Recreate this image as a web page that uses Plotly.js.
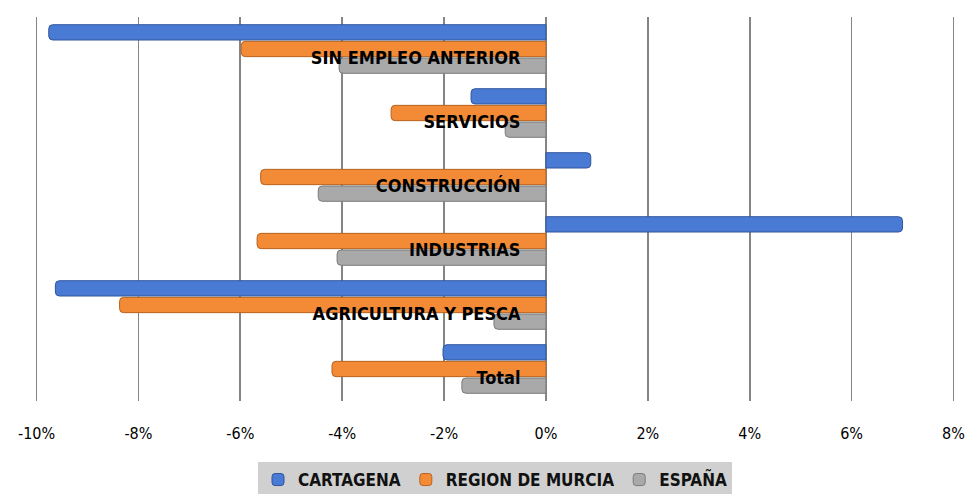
<!DOCTYPE html>
<html>
<head>
<meta charset="utf-8">
<script src="https://cdn.plot.ly/plotly-3.0.1.min.js"></script>
<style>html,body{margin:0;padding:0;background:#fff;}#chart{width:973px;height:494px;}</style>
</head>
<body>
<div id="chart"></div>
<script>
const categories = ["SIN EMPLEO ANTERIOR", "SERVICIOS", "CONSTRUCCIÓN", "INDUSTRIAS", "AGRICULTURA Y PESCA", "Total"];
const cartagena = [-9.76, -1.47, 0.88, 7.0, -9.63, -2.02];
const murcia = [-5.98, -3.04, -5.6, -5.67, -8.37, -4.2];
const espana = [-4.06, -0.8, -4.47, -4.1, -1.02, -1.65];
const seriesNames = ["CARTAGENA", "REGION DE MURCIA", "ESPAÑA"];
const tickVals = [-10, -8, -6, -4, -2, 0, 2, 4, 6, 8];
const tickText = ["-10%", "-8%", "-6%", "-4%", "-2%", "0%", "2%", "4%", "6%", "8%"];

const colors = ["#4a7bd4", "#f28a36", "#a9a9a9"];
const lineColors = ["#2f559c", "#b8621f", "#7a7a7a"];
const FONT = "'Liberation Sans Narrow', 'DejaVu Sans Condensed', 'Open Sans', sans-serif";

const data = [cartagena, murcia, espana].map((vals, i) => ({
  type: "bar",
  orientation: "h",
  name: seriesNames[i],
  y: categories,
  x: vals,
  marker: {color: colors[i], line: {color: lineColors[i], width: 1}, cornerradius: 4},
  hoverinfo: "x+y+name"
}));

const xmin = -10, xmax = 8;
const layout = {
  width: 973, height: 494,
  margin: {l: 35, r: 18, t: 17, b: 93},
  paper_bgcolor: "#fff", plot_bgcolor: "#fff",
  barmode: "group",
  bargap: 0.22,
  bargroupgap: 0.08,
  font: {family: FONT, size: 16, color: "#000"},
  xaxis: {
    range: [xmin - 0.03, xmax + 0.03],
    tickvals: tickVals,
    ticktext: tickText,
    showgrid: true, gridcolor: "#858585", gridwidth: 1.6,
    zeroline: false,
    ticks: "outside", ticklen: 18, tickcolor: "rgba(0,0,0,0)",
    tickfont: {family: FONT, size: 16, color: "#000"},
    fixedrange: true
  },
  yaxis: {
    autorange: "reversed",
    anchor: "free",
    position: (0 - xmin) / (xmax - xmin),
    side: "left",
    showgrid: false, zeroline: false, showline: false,
    ticks: "outside", ticklen: 22, tickcolor: "rgba(0,0,0,0)",
    ticklabelshift: -9,
    tickfont: {family: FONT, size: 18, color: "#000", weight: "bold"},
    fixedrange: true
  },
  showlegend: true,
  legend: {
    orientation: "h",
    x: 0.5, xanchor: "center",
    yref: "container",
    y: (494 - 462) / 494, yanchor: "top",
    bgcolor: "#d0d0d0",
    borderwidth: 0,
    font: {family: FONT, size: 17, color: "#111", weight: "bold"},
    itemwidth: 30
  }
};

Plotly.newPlot("chart", data, layout, {displayModeBar: false, staticPlot: true});
</script>
</body>
</html>
